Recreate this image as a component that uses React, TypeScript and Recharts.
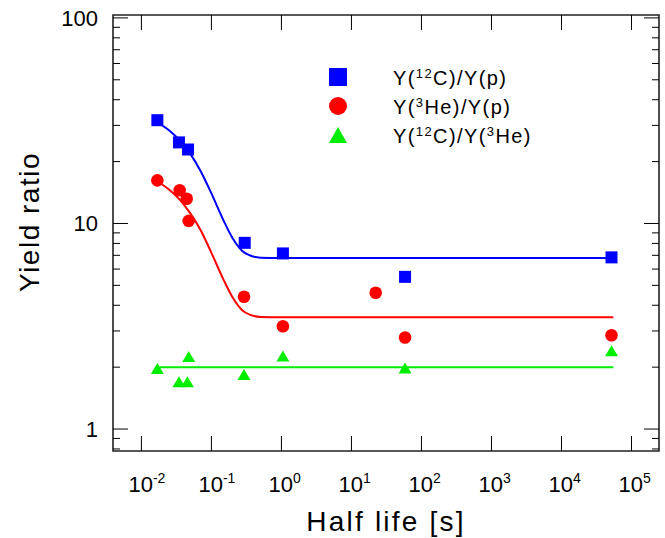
import { ComposedChart, Line, Scatter, XAxis, YAxis, ReferenceArea } from 'recharts'

const W = 665
const H = 538
// plot frame in page pixels
const PLOT = { left: 113, right: 659, top: 15, bottom: 451 }

const X_DOMAIN = [0.00393, 247000]
const Y_DOMAIN = [0.782, 103.3]

const xTicks = [0.01, 0.1, 1, 10, 100, 1000, 10000, 100000]
const xTickExp = ['-2', '-1', '0', '1', '2', '3', '4', '5']
const yTicks = [0.8, 0.9, 1, 2, 3, 4, 5, 6, 7, 8, 9, 10, 20, 30, 40, 50, 60, 70, 80, 90, 100]
const yLabels = [1, 10, 100]

// measured points: half life [s] and ratios
const c12pT = [0.0169, 0.0344, 0.0464, 0.299, 1.05, 58.3, 51800]
const c12pY = [31.8, 24.8, 22.9, 8.05, 7.15, 5.5, 6.84]
const he3pT = [0.0169, 0.0352, 0.0444, 0.0474, 0.292, 1.05, 22.2, 58.3, 51800]
const he3pY = [16.2, 14.5, 13.2, 10.3, 4.4, 3.16, 4.6, 2.79, 2.86]
const c12he3T = [0.0169, 0.0344, 0.0454, 0.0474, 0.292, 1.05, 58.3, 51800]
const c12he3Y = [1.95, 1.68, 1.68, 2.23, 1.82, 2.24, 1.96, 2.38]

// fitted curves
const fitT = [0.0169, 0.025, 0.035, 0.05, 0.07, 0.1, 0.15, 0.2, 0.3, 0.5, 1, 55000]
const fitC12P = [31.0, 28.3, 25.4, 21.8, 18.0, 14.0, 10.3, 8.5, 7.19, 6.82, 6.8, 6.8]
const fitHe3P = [16.0, 14.6, 13.1, 11.2, 9.3, 7.2, 5.3, 4.38, 3.7, 3.51, 3.5, 3.5]
const flatT = [0.0169, 55000]
const fitC12He3 = [2.0, 2.0]

const BLUE = '#0000ff'
const RED = '#ff0000'
const GREEN = '#00ee00'

const NUM_FONT = '"Liberation Sans Narrow", "Liberation Sans", sans-serif'
const TXT_FONT = '"Liberation Sans", Arial, sans-serif'

const zip = (xs: number[], ys: number[]) => xs.map((x, i) => ({ x, y: ys[i] }))

const SquareDot = (p: any) => (
  <rect x={p.cx - 6} y={p.cy - 6} width={12} height={12} fill={BLUE} />
)
const CircleDot = (p: any) => <circle cx={p.cx} cy={p.cy} r={6.3} fill={RED} />
const TriangleDot = (p: any) => (
  <path
    d={`M${p.cx - 6.5},${p.cy + 4.5} L${p.cx + 6.5},${p.cy + 4.5} L${p.cx},${p.cy - 6.5} Z`}
    fill={GREEN}
  />
)

const XTick = (props: any) => {
  const { payload, index } = props
  const x = payload.coordinate
  return (
    <g>
      <line x1={x} x2={x} y1={PLOT.bottom} y2={PLOT.bottom - 15} stroke="#000" />
      <line x1={x} x2={x} y1={PLOT.top} y2={PLOT.top + 15} stroke="#000" />
      <text x={x - 13} y={492} fontSize={22} fontFamily={NUM_FONT} fill="#000">
        <tspan>10</tspan>
        <tspan dy={-9} fontSize={14}>
          {xTickExp[index]}
        </tspan>
      </text>
    </g>
  )
}

const YTick = (props: any) => {
  const { payload } = props
  const y = payload.coordinate
  const major = yLabels.includes(payload.value)
  const len = major ? 15 : 7
  return (
    <g>
      <line x1={PLOT.left} x2={PLOT.left + len} y1={y} y2={y} stroke="#000" />
      <line x1={PLOT.right} x2={PLOT.right - len} y1={y} y2={y} stroke="#000" />
      {major && (
        <text x={98} y={y + 8} textAnchor="end" fontSize={22} fontFamily={NUM_FONT} fill="#000">
          {payload.value}
        </text>
      )}
    </g>
  )
}

const Overlay = () => (
  <svg
    width={W}
    height={H}
    style={{ position: 'absolute', left: 0, top: 0, pointerEvents: 'none' }}
  >
    <rect x={329} y={68} width={18} height={18} fill={BLUE} />
    <circle cx={338} cy={106} r={9} fill={RED} />
    <path d="M329,143 L347,143 L338,127 Z" fill={GREEN} />
    <g fontFamily={TXT_FONT} fontSize={20} fill="#000" letterSpacing={1.4}>
      <text x={393} y={85}>
        Y(<tspan dy={-7} fontSize={13}>12</tspan>
        <tspan dy={7}>C)/Y(p)</tspan>
      </text>
      <text x={393} y={114}>
        Y(<tspan dy={-7} fontSize={13}>3</tspan>
        <tspan dy={7}>He)/Y(p)</tspan>
      </text>
      <text x={393} y={143}>
        Y(<tspan dy={-7} fontSize={13}>12</tspan>
        <tspan dy={7}>C)/Y(</tspan>
        <tspan dy={-7} fontSize={13}>3</tspan>
        <tspan dy={7}>He)</tspan>
      </text>
    </g>
    <text
      x={386}
      y={531}
      textAnchor="middle"
      fontFamily={TXT_FONT}
      fontSize={28}
      letterSpacing={2.2}
      fill="#000"
    >
      Half life [s]
    </text>
    <text
      x={0}
      y={0}
      transform="translate(39,222) rotate(-90)"
      textAnchor="middle"
      fontFamily={TXT_FONT}
      fontSize={28}
      letterSpacing={1.5}
      fill="#000"
    >
      Yield ratio
    </text>
  </svg>
)

export default function App() {
  return (
    <div style={{ position: 'relative', width: W, height: H, background: '#fff' }}>
      <style>{'body{margin:0}'}</style>
      <ComposedChart
        width={W}
        height={H}
        margin={{ top: PLOT.top, right: W - PLOT.right, bottom: H - PLOT.bottom - 30, left: PLOT.left - 60 }}
      >
        <XAxis
          type="number"
          dataKey="x"
          scale="log"
          domain={X_DOMAIN}
          allowDataOverflow
          ticks={xTicks}
          interval={0}
          tick={<XTick />}
          tickLine={false}
          axisLine={false}
          height={30}
        />
        <YAxis
          type="number"
          dataKey="y"
          scale="log"
          domain={Y_DOMAIN}
          allowDataOverflow
          ticks={yTicks}
          interval={0}
          tick={<YTick />}
          tickLine={false}
          axisLine={false}
          width={60}
        />
        <ReferenceArea
          x1={X_DOMAIN[0]}
          x2={X_DOMAIN[1]}
          y1={Y_DOMAIN[0]}
          y2={Y_DOMAIN[1]}
          fill="none"
          fillOpacity={0}
          stroke="#222"
          strokeWidth={1.6}
          ifOverflow="visible"
        />
        <Line data={zip(fitT, fitC12P)} dataKey="y" type="monotone" stroke={BLUE} strokeWidth={2} dot={false} isAnimationActive={false} />
        <Line data={zip(fitT, fitHe3P)} dataKey="y" type="monotone" stroke={RED} strokeWidth={2} dot={false} isAnimationActive={false} />
        <Line data={zip(flatT, fitC12He3)} dataKey="y" type="linear" stroke={GREEN} strokeWidth={2} dot={false} isAnimationActive={false} />
        <Scatter data={zip(c12pT, c12pY)} shape={SquareDot} isAnimationActive={false} />
        <Scatter data={zip(he3pT, he3pY)} shape={CircleDot} isAnimationActive={false} />
        <Scatter data={zip(c12he3T, c12he3Y)} shape={TriangleDot} isAnimationActive={false} />
      </ComposedChart>
      <Overlay />
    </div>
  )
}
